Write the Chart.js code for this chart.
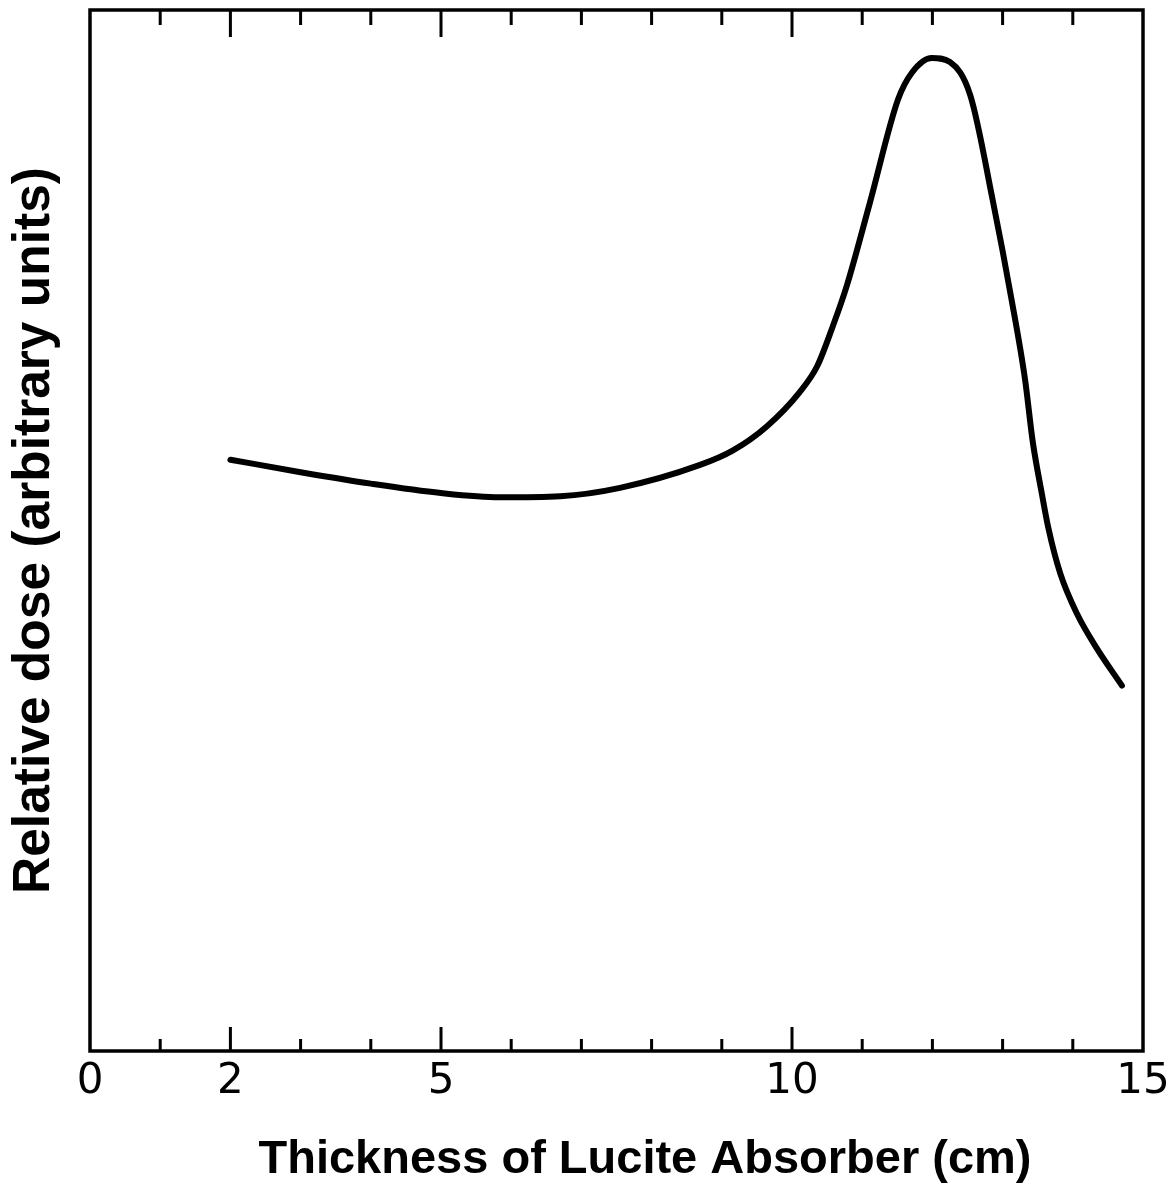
<!DOCTYPE html>
<html>
<head>
<meta charset="utf-8">
<script src="https://cdn.jsdelivr.net/npm/chart.js@4.4.0/dist/chart.umd.min.js"></script>
<style>
  body { margin: 0; background: #fff; }
  canvas { display: block; }
</style>
</head>
<body>
<canvas id="doseChart" width="1169" height="1185"></canvas>
<script>
// thickness of lucite (cm) vs relative dose (top of frame = 100)
const thickness = [2.0, 3.0, 4.0, 5.0, 5.84, 6.7, 7.55, 8.69, 9.16, 9.64, 10.11, 10.36, 10.58, 10.78, 11.11, 11.51, 11.71, 11.99, 12.25, 12.54, 12.86, 13.13, 13.32, 13.43, 13.56, 13.65, 13.82, 14.06, 14.34, 14.7];
const dose = [56.8, 55.6, 54.5, 53.6, 53.2, 53.3, 54.1, 56.3, 57.7, 60.0, 63.3, 65.8, 69.6, 73.5, 81.5, 91.4, 94.0, 95.4, 95.0, 91.8, 81.7, 72.1, 64.5, 58.5, 53.5, 50.3, 45.9, 42.0, 38.7, 35.1];

const xLabels = [0, 2, 5, 10, 15];
const minorTicks = [1, 2, 3, 4, 5, 6, 7, 8, 9, 10, 11, 12, 13, 14];
const majorTicks = [2, 5, 10];
const xTitle = 'Thickness of Lucite Absorber (cm)';

// frame, inward tick marks on top and bottom edges, x title
const frameTicks = {
    id: 'frameTicks',
    afterDraw(chart) {
        const { ctx, chartArea: a, scales: { x } } = chart;
        ctx.save();
        ctx.strokeStyle = '#000';
        ctx.lineWidth = 3.5;
        ctx.strokeRect(a.left, a.top, a.right - a.left, a.bottom - a.top);
        ctx.lineWidth = 3;
        minorTicks.forEach(v => {
            const px = x.getPixelForValue(v);
            const big = majorTicks.includes(v);
            ctx.beginPath();
            ctx.moveTo(px, a.bottom);
            ctx.lineTo(px, a.bottom - (big ? 24 : 12));
            ctx.moveTo(px, a.top);
            ctx.lineTo(px, a.top + (big ? 27 : 15));
            ctx.stroke();
        });
        ctx.fillStyle = '#000';
        ctx.font = 'bold 47px "Liberation Sans"';
        ctx.textAlign = 'center';
        ctx.textBaseline = 'middle';
        ctx.fillText(xTitle, 645, 1160);
        ctx.restore();
    }
};

new Chart(document.getElementById('doseChart'), {
    type: 'line',
    data: {
        datasets: [{
            data: thickness.map((t, i) => ({ x: t, y: dose[i] })),
            borderColor: '#000',
            borderWidth: 6,
            pointRadius: 0,
            borderCapStyle: 'round',
            cubicInterpolationMode: 'monotone',
            fill: false
        }]
    },
    options: {
        responsive: false,
        animation: false,
        layout: { padding: { top: 10, right: 26, left: 0, bottom: 0 } },
        plugins: {
            legend: { display: false },
            tooltip: { enabled: false }
        },
        scales: {
            x: {
                type: 'linear',
                min: 0,
                max: 15,
                afterBuildTicks: scale => { scale.ticks = xLabels.map(v => ({ value: v })); },
                afterFit: scale => {
                    scale.height = 134;
                    scale.paddingLeft = 0;
                    scale.paddingRight = 0;
                },
                grid: { display: false, drawTicks: false },
                border: { display: false },
                ticks: {
                    autoSkip: false,
                    maxRotation: 0,
                    padding: 6,
                    color: '#000',
                    font: { family: 'DejaVu Sans', size: 42 }
                }
            },
            y: {
                min: 0,
                max: 100,
                afterFit: scale => { scale.width = 90; },
                grid: { display: false, drawTicks: false },
                border: { display: false },
                ticks: { display: false },
                title: {
                    display: true,
                    text: 'Relative dose (arbitrary units)',
                    color: '#000',
                    font: { family: 'Liberation Sans', size: 51.5, weight: 'bold', lineHeight: 1.2 },
                    padding: { top: 4, bottom: 0 }
                }
            }
        }
    },
    plugins: [frameTicks]
});
</script>
</body>
</html>
